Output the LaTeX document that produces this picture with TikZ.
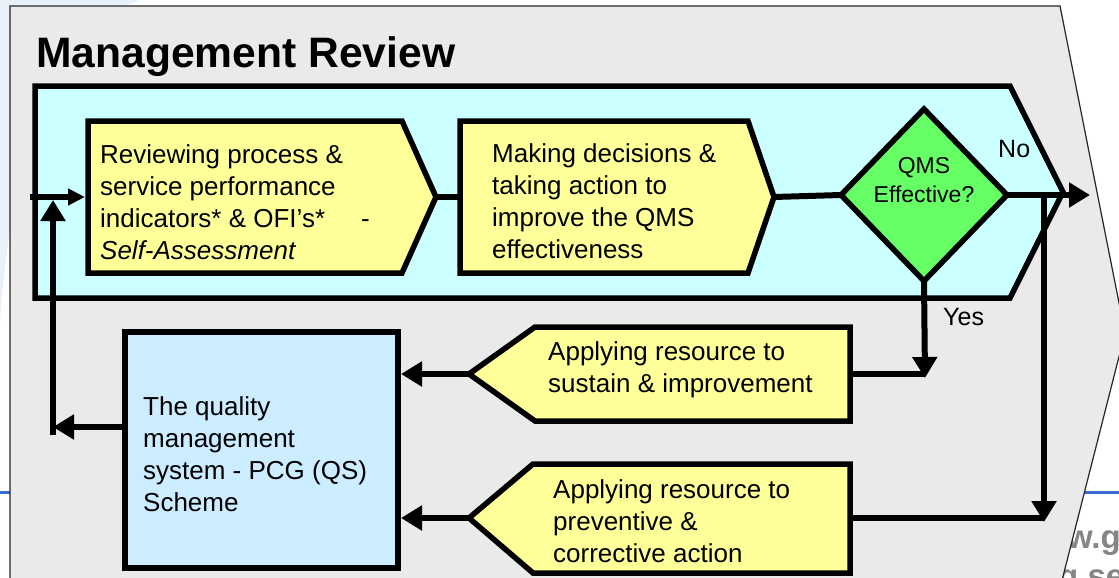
\documentclass[tikz,border=0pt]{standalone}
\usepackage{fontspec}
\setmainfont{Liberation Sans}
\usetikzlibrary{arrows.meta}
\definecolor{graybg}{HTML}{EAEAEA}
\definecolor{cyanbg}{HTML}{CCFFFF}
\definecolor{yellowbg}{HTML}{FFFF99}
\definecolor{greenbg}{HTML}{66FF66}
\definecolor{qmsbg}{HTML}{CCECFF}
\definecolor{bgblue}{HTML}{E8F0FA}
\definecolor{blueline}{HTML}{3A6BD0}
\definecolor{urlgray}{HTML}{858585}
\newcommand{\mylines}[2][l]{\begin{tabular}[t]{@{}#1@{}}#2\end{tabular}}
\begin{document}
\begin{tikzpicture}[x=1pt,y=-1pt,line join=miter,
  boxline/.style={draw=black,line width=5.5pt},
  conn/.style={line width=6pt},
  arr/.style={conn,-{Triangle[length=21pt,width=24pt]}},
  smallarr/.style={conn,-{Triangle[length=17pt,width=16pt]}},
  txt/.style={anchor=base west,inner sep=0pt,font=\fontsize{26}{32}\selectfont},
  lbl/.style={anchor=base west,inner sep=0pt,font=\fontsize{25}{30}\selectfont},
  url/.style={inner sep=0pt,text=urlgray,font=\bfseries\fontsize{33}{40}\selectfont}]
\useasboundingbox (0,0) rectangle (1119,578);
\clip (0,0) rectangle (1119,578);
\fill[white] (0,0) rectangle (1119,578);
% faint slide background
\fill[bgblue] (0,0) -- (140,0) .. controls (60,30) and (15,120) .. (0,320) -- cycle;
\draw[blueline,line width=3pt] (0,492) -- (14,492);
\draw[blueline,line width=3pt] (1070,492) -- (1119,492);
\node[url,anchor=base east] (url1) at (1121,548) {w.g};
\node[url,anchor=base west] (url2) at (1058,587) {g se};
% outer grey chevron
\path[draw=black!85,line width=1.2pt,fill=graybg] (10,6) -- (1060,6) -- (1125,333) -- (1057,600) -- (10,600) -- cycle;
\node[anchor=base west,inner sep=0pt,font=\bfseries\fontsize{42.6}{50}\selectfont] (title) at (36,67) {Management Review};
% cyan chevron
\path[boxline,fill=cyanbg] (35,86) -- (1010,86) -- (1063,192) -- (1010,298) -- (35,298) -- cycle;
% box 1
\path[boxline,fill=yellowbg] (88,121) -- (402,121) -- (436,197) -- (402,273) -- (88,273) -- cycle;
\coordinate (b1w) at (85,197);
\coordinate (b1e) at (436,197);
\node[txt] (t1) at (100,163) {\mylines{Reviewing process \&\\service performance\\indicators* \& OFI’s*\hspace{36pt}-\\\textit{Self-Assessment}}};
% box 2
\path[boxline,fill=yellowbg] (460,121) -- (748,121) -- (774,197) -- (748,273) -- (460,273) -- cycle;
\coordinate (b2w) at (460,197);
\coordinate (b2e) at (774,197);
\node[txt] (t2) at (492,162) {\mylines{Making decisions \&\\taking action to\\improve the QMS\\effectiveness}};
% diamond
\path[boxline,fill=greenbg] (841,195) -- (924,109) -- (1007,195) -- (924,281) -- cycle;
\coordinate (dl) at (841,195);
\coordinate (dr) at (1007,195);
\coordinate (db) at (924,281);
\node[anchor=base,inner sep=0pt,font=\fontsize{23}{29}\selectfont] (td) at (924,173) {\mylines[c]{QMS\\Effective?}};
\node[lbl] (no) at (998,157) {No};
\node[lbl] (yes) at (943,325) {Yes};
% box 3
\path[boxline,fill=yellowbg] (469,374) -- (535,327) -- (850,327) -- (850,421) -- (535,421) -- cycle;
\coordinate (b3w) at (469,374);
\coordinate (b3e) at (850,374);
\node[txt] (t3) at (548,360) {\mylines{Applying resource to\\sustain \& improvement}};
% box 4
\path[boxline,fill=yellowbg] (469,518) -- (533,464) -- (850,464) -- (850,573) -- (533,573) -- cycle;
\coordinate (b4w) at (469,518);
\coordinate (b4e) at (850,518);
\node[txt] (t4) at (553,498) {\mylines{Applying resource to\\preventive \&\\corrective action}};
% QMS box
\path[boxline,fill=qmsbg] (125,332) rectangle (398,568);
\coordinate (qn) at (401,374);
\coordinate (qs) at (401,518);
\coordinate (qw) at (125,427);
\node[txt] (tq) at (143,415) {\mylines{The quality\\management\\system - PCG (QS)\\Scheme}};
% connector coordinates
\coordinate (in) at (30,197);
\coordinate (out) at (1090,195);
\coordinate (nojoin) at (1044,195);
\coordinate (nodown) at (1044,522);
\coordinate (yesdown) at (925,378);
\coordinate (leftj) at (53,427);
\coordinate (leftbot) at (53,435);
\coordinate (lefttop) at (53,200);
% connectors
\draw[smallarr] (in) -- (b1w);
\draw[conn] (b1e) -- (b2w);
\draw[conn] (b2e) -- (dl);
\draw[arr] (dr) -- (out);
\draw[arr] (db) -- (yesdown);
\draw[conn] (b3e) -- (b3e -| yesdown);
\draw[arr] (nojoin) -- (nodown);
\draw[conn] (b4e) -- (b4e -| nodown);
\draw[arr] (b3w) -- (qn);
\draw[arr] (b4w) -- (qs);
\draw[arr] (qw) -- (leftj);
\draw[arr] (leftbot) -- (lefttop);
\end{tikzpicture}
\end{document}
